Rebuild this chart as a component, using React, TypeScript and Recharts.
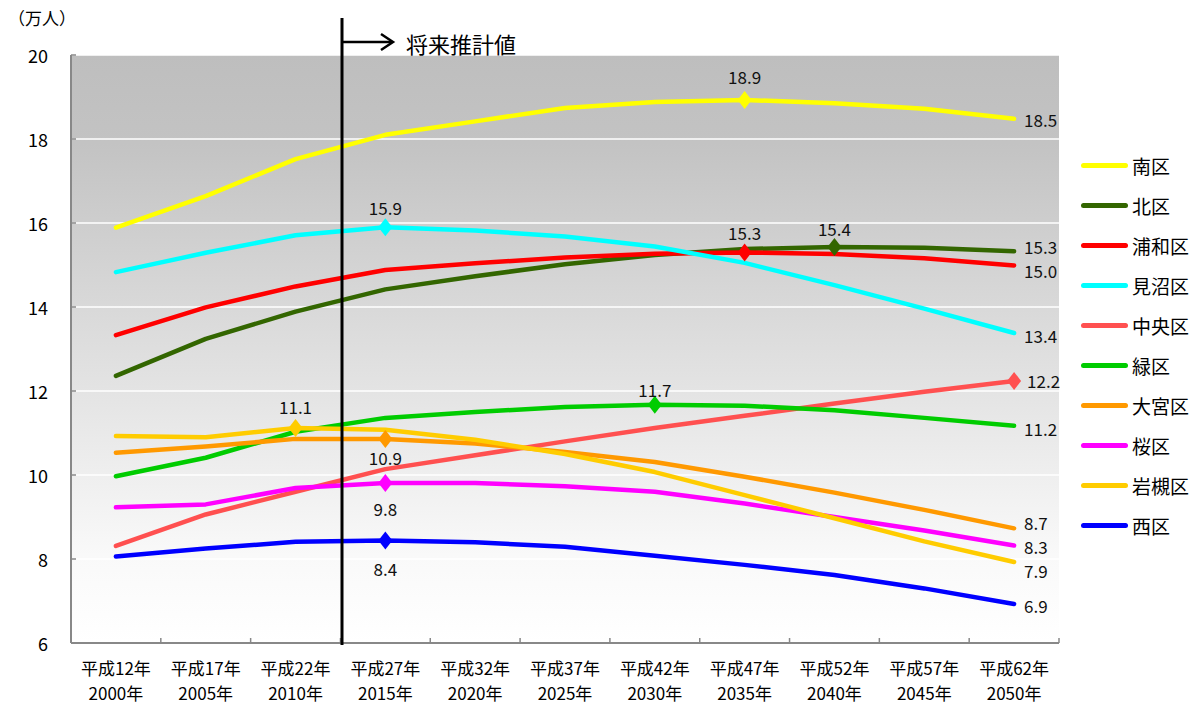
import { LineChart, Line, XAxis, YAxis, CartesianGrid, Legend } from 'recharts';

const eraLabels = ['平成12年', '平成17年', '平成22年', '平成27年', '平成32年', '平成37年', '平成42年', '平成47年', '平成52年', '平成57年', '平成62年'];
const yearLabels = ['2000年', '2005年', '2010年', '2015年', '2020年', '2025年', '2030年', '2035年', '2040年', '2045年', '2050年'];

const minami = [15.89, 16.64, 17.52, 18.1, 18.42, 18.74, 18.88, 18.93, 18.85, 18.72, 18.48];
const kita = [12.36, 13.24, 13.89, 14.42, 14.73, 15.02, 15.24, 15.38, 15.43, 15.41, 15.33];
const urawa = [13.33, 13.99, 14.49, 14.88, 15.04, 15.18, 15.27, 15.3, 15.26, 15.16, 14.99];
const minuma = [14.83, 15.29, 15.71, 15.9, 15.82, 15.68, 15.44, 15.05, 14.52, 13.96, 13.38];
const chuo = [8.31, 9.06, 9.6, 10.14, 10.47, 10.8, 11.12, 11.41, 11.7, 11.98, 12.24];
const midori = [9.97, 10.41, 11.03, 11.36, 11.5, 11.62, 11.67, 11.65, 11.54, 11.36, 11.17];
const omiya = [10.53, 10.68, 10.86, 10.86, 10.75, 10.55, 10.31, 9.96, 9.58, 9.17, 8.73];
const sakura = [9.23, 9.3, 9.69, 9.81, 9.81, 9.73, 9.6, 9.32, 9.0, 8.68, 8.32];
const iwatsuki = [10.93, 10.9, 11.12, 11.08, 10.84, 10.5, 10.07, 9.52, 8.97, 8.42, 7.93];
const nishi = [8.06, 8.25, 8.41, 8.44, 8.4, 8.29, 8.08, 7.86, 7.62, 7.3, 6.93];

const yTicks = [6, 8, 10, 12, 14, 16, 18, 20];

// series in legend order, with which point gets the diamond + label
const series = [
  { name: '南区', values: minami, color: '#FFFF00', mark: 7, pos: 'top', dy: -23, endDy: 1 },
  { name: '北区', values: kita, color: '#336600', mark: 8, pos: 'top', dy: -18, endDy: -5 },
  { name: '浦和区', values: urawa, color: '#FF0000', mark: 7, pos: 'top', dy: -20, endDy: 5 },
  { name: '見沼区', values: minuma, color: '#00FFFF', mark: 3, pos: 'top', dy: -20, endDy: 2 },
  { name: '中央区', values: chuo, color: '#FF5050', mark: 10, pos: 'right', dy: 0, endDy: 0 },
  { name: '緑区', values: midori, color: '#00CC00', mark: 6, pos: 'top', dy: -15, endDy: 3 },
  { name: '大宮区', values: omiya, color: '#FF9900', mark: 3, pos: 'bottom', dy: 19, endDy: -6 },
  { name: '桜区', values: sakura, color: '#FF00FF', mark: 3, pos: 'bottom', dy: 26, endDy: 1 },
  { name: '岩槻区', values: iwatsuki, color: '#FFCC00', mark: 2, pos: 'top', dy: -21, endDy: 9 },
  { name: '西区', values: nishi, color: '#0000FF', mark: 3, pos: 'bottom', dy: 28, endDy: 2 },
];

const data = eraLabels.map((era, i) => {
  const row: Record<string, number | string> = { i, era, year: yearLabels[i] };
  series.forEach((s) => {
    row[s.name] = s.values[i];
  });
  return row;
});

const xTicks: number[] = [];
for (let k = -0.5; k <= 10.5; k += 0.5) xTicks.push(k);

const font = '"Noto Sans CJK JP", sans-serif';

const XTick = (props: any) => {
  const { x, y, payload } = props;
  const v = payload.value;
  if (!Number.isInteger(v)) {
    return <line x1={x} x2={x} y1={y} y2={y - 5} stroke="#888" strokeWidth={1.5} />;
  }
  return (
    <g>
      <text x={x} y={y + 24} textAnchor="middle" dominantBaseline="central" fontSize={17} fontFamily={font} fill="#000">
        {eraLabels[v]}
      </text>
      <text x={x} y={y + 49} textAnchor="middle" dominantBaseline="central" fontSize={17} fontFamily={font} fill="#000">
        {yearLabels[v]}
      </text>
    </g>
  );
};

const YTick = (props: any) => {
  const { x, y, payload } = props;
  return (
    <g>
      <line x1={x + 23} x2={x + 28} y1={y} y2={y} stroke="#888" strokeWidth={1.5} />
      <text x={x} y={y} textAnchor="end" dominantBaseline="central" fontSize={18} fontFamily={font} fill="#000">
        {payload.value}
      </text>
    </g>
  );
};

const makeDot = (s: any) => (props: any) => {
  const { cx, cy, index } = props;
  if (index !== s.mark) return <g key={`d-${s.name}-${index}`} />;
  return (
    <path
      key={`d-${s.name}-${index}`}
      d={`M${cx},${cy - 9} L${cx + 7},${cy} L${cx},${cy + 9} L${cx - 7},${cy} Z`}
      fill={s.color}
    />
  );
};

const makeLabel = (s: any) => (props: any) => {
  const { x, y, value, index } = props;
  const last = s.values.length - 1;
  const txt = Number(value).toFixed(1);
  const common = { fontSize: 17, fontFamily: font, fill: '#111', dominantBaseline: 'central' as const };
  if (index === last) {
    return (
      <text key={`l-${s.name}`} x={x + (s.mark === last ? 13 : 10)} y={y + s.endDy} textAnchor="start" {...common}>
        {txt}
      </text>
    );
  }
  if (index === s.mark) {
    return (
      <text key={`l-${s.name}`} x={x} y={y + s.dy} textAnchor="middle" {...common}>
        {txt}
      </text>
    );
  }
  return <g key={`l-${s.name}-${index}`} />;
};

const LegendBox = () => (
  <div style={{ fontFamily: font }}>
    {series.map((s) => (
      <div key={s.name} style={{ display: 'flex', alignItems: 'center', height: 40 }}>
        <span style={{ display: 'inline-block', width: 47, height: 5, borderRadius: 3, background: s.color, marginRight: 4 }} />
        <span style={{ fontSize: 19, color: '#000' }}>{s.name}</span>
      </div>
    ))}
  </div>
);

export default function App() {
  return (
    <div style={{ position: 'absolute', left: 0, top: 0, width: 1204, height: 706, background: '#fff' }}>
      <LineChart width={1204} height={706} data={data} margin={{ top: 55, right: 145, bottom: 0, left: 0 }}>
        <defs>
          <linearGradient id="bg" x1="0" y1="0" x2="0" y2="1">
            <stop offset="0%" stopColor="#BEBEBE" />
            <stop offset="15%" stopColor="#C3C3C3" />
            <stop offset="55%" stopColor="#E2E2E2" />
            <stop offset="85%" stopColor="#F9F9F9" />
            <stop offset="100%" stopColor="#FFFFFF" />
          </linearGradient>
        </defs>
        <CartesianGrid vertical={false} stroke="#FFFFFF" strokeWidth={1.5} fill="url(#bg)" />
        <XAxis
          dataKey="i"
          type="number"
          domain={[-0.5, 10.5]}
          ticks={xTicks}
          interval={0}
          height={63}
          tickLine={false}
          tickSize={0}
          tickMargin={0}
          tick={<XTick />}
          axisLine={{ stroke: '#888', strokeWidth: 2 }}
        />
        <YAxis
          type="number"
          domain={[6, 20]}
          ticks={yTicks}
          width={71}
          tickLine={false}
          tickSize={0}
          tickMargin={23}
          tick={<YTick />}
          axisLine={{ stroke: '#888', strokeWidth: 2 }}
        />
        <Legend layout="horizontal" verticalAlign="middle" align="center" content={<LegendBox />} wrapperStyle={{ left: 1081, top: 145, width: 120 }} />
        {series.map((s) => (
          <Line
            key={s.name}
            type="linear"
            dataKey={s.name}
            name={s.name}
            stroke={s.color}
            strokeWidth={4.5}
            strokeLinecap="round"
            strokeLinejoin="round"
            dot={makeDot(s)}
            activeDot={false}
            label={makeLabel(s)}
            isAnimationActive={false}
          />
        ))}
      </LineChart>
      <svg width={1204} height={706} style={{ position: 'absolute', left: 0, top: 0, pointerEvents: 'none' }}>
        <text x={8} y={17} dominantBaseline="central" fontSize={17} fontFamily={font} fill="#000">
          （万人）
        </text>
        <line x1={342} x2={342} y1={18} y2={645} stroke="#000" strokeWidth={3} />
        <line x1={342} x2={392} y1={42} y2={42} stroke="#000" strokeWidth={2.5} />
        <polyline points="381,34 393,42 381,50" fill="none" stroke="#000" strokeWidth={2.5} />
        <text x={406} y={43} dominantBaseline="central" fontSize={22} fontFamily={font} fill="#000">
          将来推計値
        </text>
      </svg>
    </div>
  );
}
